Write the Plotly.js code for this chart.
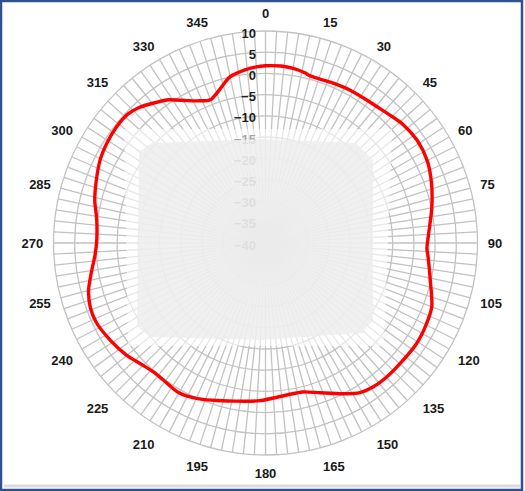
<!DOCTYPE html>
<html>
<head>
<meta charset="utf-8">
<script src="https://cdn.plot.ly/plotly-3.0.1.min.js"></script>
<style>
  html, body { margin: 0; padding: 0; background: #fff; }
  #chart { width: 525px; height: 491px; }
</style>
</head>
<body>
<div id="chart"></div>
<script>
document.addEventListener('DOMContentLoaded', function () {
    // measured pattern (degrees, dB)
    var angles = [0, 5, 9, 13, 15, 22, 29, 35, 39, 45, 49, 56, 63, 70, 78, 87, 92, 95,
        103, 111, 117, 124, 132, 138, 143, 148, 153, 160, 166, 172, 182, 191, 204,
        210, 217, 221, 226, 231, 238, 245, 250, 255, 261, 266, 271, 278, 284, 290,
        297, 302, 308, 313, 317, 322, 326, 331, 335, 339, 343, 348, 353, 357, 360];
    var gain = [1.8, 1.9, 1.7, 1.2, 0.8, 0.9, 1.2, 1.3, 1.5, 2.2, 2.8, 3.2, 2.8, 1.65, 0.1, -1.5, -1.9, -1.5,
        -0.1, 2.0, 2.5, 2.8, 2.6, 2.6, 2.4, 1.7, -0.1, -2.4, -3.8, -3.8, -2.8, -2.0, 0.1,
        0.8, 0.3, 0.3, 1.0, 2.1, 3.2, 4.1, 4.0, 3.2, 1.5, 0.3, -0.2, 0.2, 1.5, 2.5,
        3.7, 4.2, 4.55, 4.5, 3.7, 2.05, 0.75, -1.6, -3.0, -3.8, -2.4, 0.1, 1.1, 1.6, 1.8];

    // category spokes every 3 degrees, labelled every 15
    var spokeVals = [];
    var spokeText = [];
    for (var a = 0; a < 360; a += 3) {
        spokeVals.push(a);
        spokeText.push(a % 15 === 0 ? String(a) : '');
    }
    var radialTicks = [-40, -35, -30, -25, -20, -15, -10, -5, 0, 5, 10];

    var W = 525, H = 491;
    function X(px) { return px / W; }
    function Y(py) { return 1 - py / H; }
    function path(pts) {
        return 'M' + pts.map(function (p) { return p[0] + ',' + p[1]; }).join(' L') + ' Z';
    }

    var trace = {
        type: 'scatterpolar',
        r: gain,
        theta: angles,
        mode: 'lines',
        line: { color: '#ff0000', width: 3.4, shape: 'spline', smoothing: 0.8 },
        hoverinfo: 'skip'
    };

    var layout = {
        width: W,
        height: H,
        margin: { l: 0, r: 0, t: 0, b: 0 },
        paper_bgcolor: '#ffffff',
        showlegend: false,
        polar: {
            domain: { x: [X(265.5 - 212), X(265.5 + 212)], y: [Y(243 + 212), Y(243 - 212)] },
            bgcolor: '#ffffff',
            angularaxis: {
                rotation: 90,
                direction: 'clockwise',
                tickmode: 'array',
                tickvals: spokeVals,
                ticktext: spokeText,
                ticks: 'outside',
                ticklen: 7,
                tickcolor: 'rgba(0,0,0,0)',
                tickfont: { family: 'Liberation Sans, Arial, sans-serif', size: 13, color: '#1a1a1a', weight: 'bold' },
                gridcolor: '#c2c2c2',
                gridwidth: 1.3,
                linecolor: '#c2c2c2',
                linewidth: 1.3,
                showline: true
            },
            radialaxis: {
                range: [-40, 10],
                tickmode: 'array',
                tickvals: radialTicks,
                angle: 90,
                side: 'counterclockwise',
                ticks: '',
                showline: false,
                tickfont: { family: 'Liberation Sans, Arial, sans-serif', size: 13, color: '#1f1f1f', weight: 'bold' },
                gridcolor: '#c2c2c2',
                gridwidth: 1.3
            }
        },
        shapes: [
            {
                type: 'path', xref: 'paper', yref: 'paper', layer: 'above',
                path: path([[X(124), Y(129)], [X(392), Y(129)], [X(384), Y(346)], [X(128), Y(346)]]),
                fillcolor: 'rgba(255,255,255,0.6)', line: { width: 0 }
            },
            {
                type: 'path', xref: 'paper', yref: 'paper', layer: 'above',
                path: path([[X(139), Y(152)], [X(152), Y(143)], [X(262), Y(139)], [X(356), Y(143)],
                    [X(373), Y(160)], [X(373), Y(320)], [X(362), Y(333)], [X(262), Y(340)],
                    [X(150), Y(337)], [X(137), Y(326)]]),
                fillcolor: 'rgba(236,236,236,0.8)', line: { width: 0 }
            },
            {
                type: 'line', xref: 'paper', yref: 'paper', layer: 'above',
                x0: X(4), x1: X(520), y0: Y(486), y1: Y(486),
                line: { color: '#dcdcdc', width: 3 }
            },
            {
                type: 'rect', xref: 'paper', yref: 'paper', layer: 'above',
                x0: X(1), x1: X(522), y0: Y(490), y1: Y(1),
                line: { color: '#2f5191', width: 2.5 }
            }
        ]
    };

    Plotly.newPlot('chart', [trace], layout, { staticPlot: true, displayModeBar: false });
});
</script>
</body>
</html>
